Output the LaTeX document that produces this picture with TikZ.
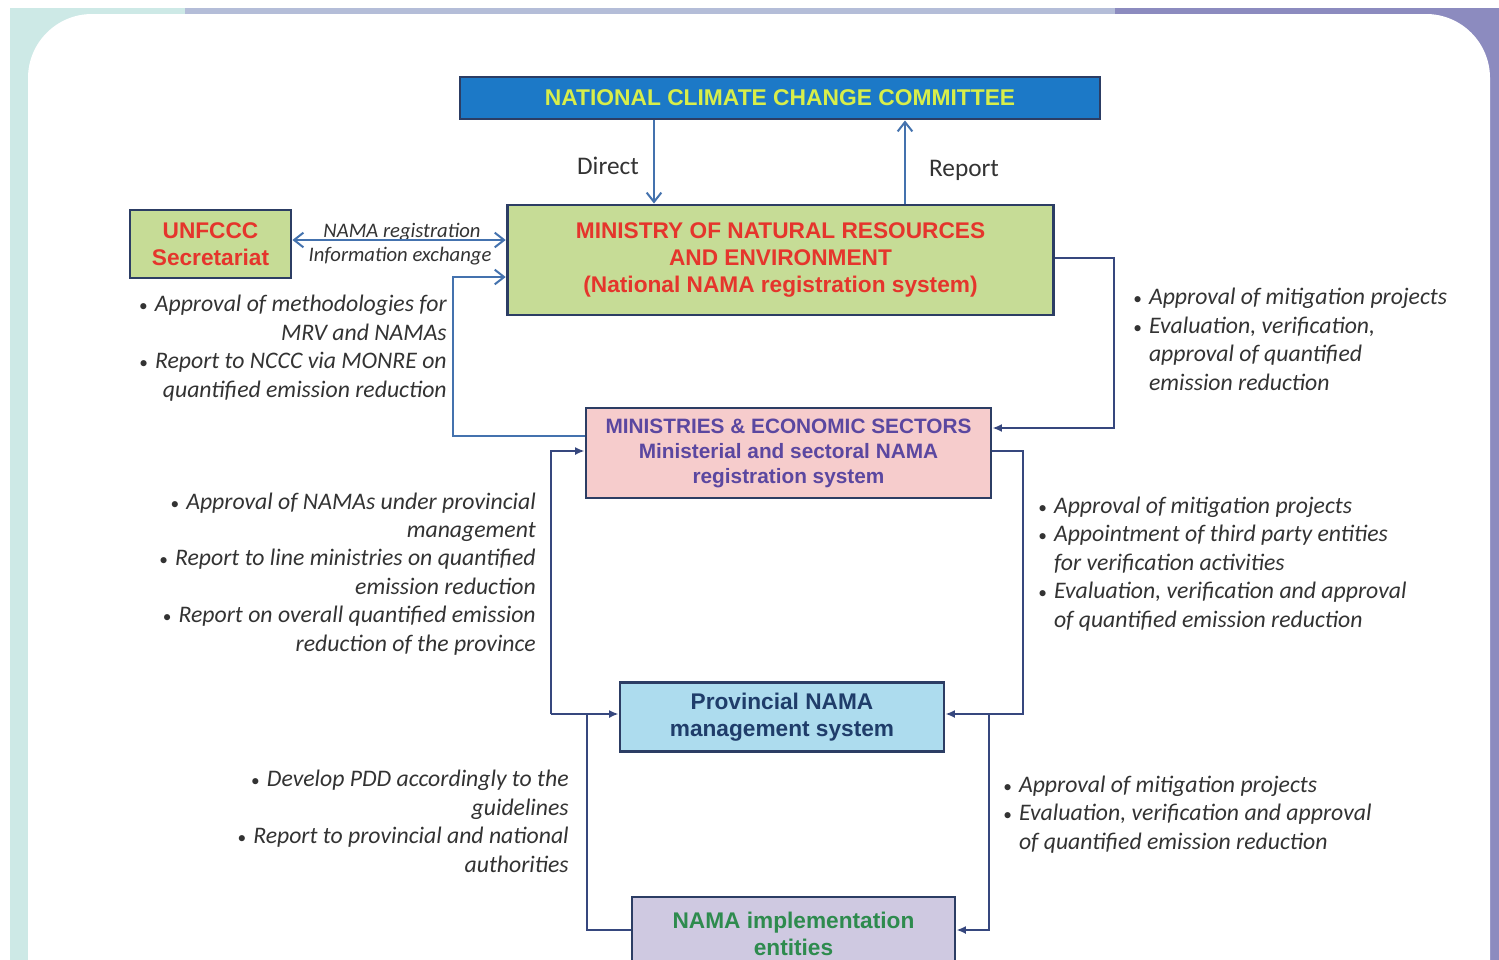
\documentclass[tikz,border=0pt]{standalone}
\usepackage{fontspec}
\setmainfont{Carlito}
\setsansfont{Liberation Sans}
\usetikzlibrary{arrows.meta,calc}
\definecolor{bgcyan}{HTML}{CDE9E6}
\definecolor{bgmid}{HTML}{B4BDD8}
\definecolor{bgpurple}{HTML}{8C8BBF}
\definecolor{ncccblue}{HTML}{1C79C7}
\definecolor{ncccyellow}{HTML}{D8EE4A}
\definecolor{boxgreen}{HTML}{C6DC96}
\definecolor{boxred}{HTML}{E5352C}
\definecolor{boxpink}{HTML}{F6CCCC}
\definecolor{minpurple}{HTML}{5B47A0}
\definecolor{provblue}{HTML}{ADDCEE}
\definecolor{provtext}{HTML}{1F3D6A}
\definecolor{namafill}{HTML}{CFC9E1}
\definecolor{namatext}{HTML}{2E8B4E}
\definecolor{border}{HTML}{2C3D64}
\definecolor{lineup}{HTML}{4472AE}
\definecolor{linelo}{HTML}{36477E}
\definecolor{note}{HTML}{333333}
\newcommand{\bul}{{\fontsize{13pt}{13pt}\selectfont\upshape\textbullet}\hspace{0.3em}}
\newcommand{\hang}{\hphantom{\bul}}
\tikzset{
  box/.style={draw=border, line width=2.2pt, inner sep=0pt, align=center,
    font=\sffamily\bfseries\fontsize{17pt}{20.25pt}\selectfont},
  note/.style={inner sep=0pt, text=note,
    font=\itshape\fontsize{17.8pt}{21.3pt}\selectfont},
  upline/.style={draw=lineup, line width=1.5pt},
  loline/.style={draw=linelo, line width=1.5pt},
  uparr/.style={upline, -{Straight Barb[length=7pt,width=11pt,line width=1.5pt]}},
  loarr/.style={loline, -{Latex[length=7pt,width=6pt]}},
}
\begin{document}
\begin{tikzpicture}[x=0.75pt,y=-0.75pt]
\useasboundingbox (0,0) rectangle (1499,960);
\clip (0,0) rectangle (1499,960);
% background frame
\fill[bgcyan] (10,8) rectangle (185,960);
\fill[bgmid] (185,8) rectangle (1115,14);
\fill[bgpurple] (1115,8) rectangle (1499,960);
\fill[white, rounded corners=48pt] (28,14) rectangle (1490,1100);

% boxes
\node[box, fill=ncccblue, text=ncccyellow, minimum width=480pt, minimum height=31.5pt,
  font=\sffamily\bfseries\fontsize{17.1pt}{19pt}\selectfont] (nccc) at (780,98)
  {NATIONAL CLIMATE CHANGE COMMITTEE};
\node[box, fill=boxgreen, text=boxred, minimum width=410pt, minimum height=82.5pt] (monre) at (780.5,260)
  {MINISTRY OF NATURAL RESOURCES\\AND ENVIRONMENT\\(National NAMA registration system)};
\node[box, fill=boxgreen, text=boxred, minimum width=120.75pt, minimum height=51pt] (unf) at (210.5,244)
  {UNFCCC\\Secretariat};
\node[box, fill=boxpink, text=minpurple, minimum width=303.75pt, minimum height=67.5pt,
  font=\sffamily\bfseries\fontsize{15.6pt}{18.75pt}\selectfont] (mins) at (788.5,453)
  {MINISTRIES \& ECONOMIC SECTORS\\Ministerial and sectoral NAMA\\registration system};
\node[box, fill=provblue, text=provtext, minimum width=243pt, minimum height=51.75pt] (prov) at (782,717)
  {Provincial NAMA\\management system};
\node[box, fill=namafill, text=namatext, minimum width=242.25pt, minimum height=55.5pt] (nama) at (793.5,934)
  {NAMA implementation\\entities};

% labels
\node[inner sep=0pt, text=note, font=\fontsize{19pt}{22pt}\selectfont, anchor=base] (ldirect) at (608,174) {Direct};
\node[inner sep=0pt, text=note, font=\fontsize{19pt}{22pt}\selectfont, anchor=base] (lreport) at (964,176) {Report};
\node[inner sep=0pt, text=note, font=\itshape\fontsize{15.5pt}{18pt}\selectfont, anchor=base] (lnreg) at (402,237) {NAMA registration};
\node[inner sep=0pt, text=note, font=\itshape\fontsize{15.5pt}{18pt}\selectfont, anchor=base] (linfo) at (400,261) {Information exchange};

% notes (base anchor = baseline of the last line)
\node[note, align=right, anchor=base east] (n1) at (447,397)
  {\bul Approval of methodologies for\\MRV and NAMAs\\\bul Report to NCCC via MONRE on\\quantified emission reduction};
\node[note, align=left, anchor=base west] (n2) at (1133,390)
  {\bul Approval of mitigation projects\\\bul Evaluation, verification,\\\hang approval of quantified\\\hang emission reduction};
\node[note, align=right, anchor=base east] (n3) at (536,651)
  {\bul Approval of NAMAs under provincial\\management\\\bul Report to line ministries on quantified\\emission reduction\\\bul Report on overall quantified emission\\reduction of the province};
\node[note, align=left, anchor=base west] (n4) at (1038,627)
  {\bul Approval of mitigation projects\\\bul Appointment of third party entities\\\hang for verification activities\\\bul Evaluation, verification and approval\\\hang of quantified emission reduction};
\node[note, align=right, anchor=base east] (n5) at (569,872)
  {\bul Develop PDD accordingly to the\\guidelines\\\bul Report to provincial and national\\authorities};
\node[note, align=left, anchor=base west] (n6) at (1003,849)
  {\bul Approval of mitigation projects\\\bul Evaluation, verification and approval\\\hang of quantified emission reduction};

% helper coordinates
\coordinate (dx) at (654,0);
\coordinate (rx) at (905,0);
\coordinate (y436) at (0,436);
\coordinate (c1) at (453,277);
\coordinate (c2) at (1114,428);
\coordinate (y451) at (0,451);
\coordinate (c3) at (1023,714);
\coordinate (c551) at (551,714);
\coordinate (c587) at (587,714);
\coordinate (c989) at (989,714);
\coordinate (y930) at (0,930);
\coordinate (y240) at (0,240);

% connectors
\draw[uparr] (nccc.south -| dx) -- (monre.north -| dx);
\draw[uparr] (monre.north -| rx) -- (nccc.south -| rx);
\draw[upline, {Straight Barb[length=7pt,width=11pt,line width=1.5pt]}-{Straight Barb[length=7pt,width=11pt,line width=1.5pt]}]
  (unf.east |- y240) -- (monre.west |- y240);
\draw[uparr] (mins.west |- y436) -| (c1) -- (monre.west |- c1);
\draw[loarr] (monre.east |- 0,258) -| (c2) -- (mins.east |- c2);
\draw[loarr] (mins.east |- y451) -| (c3) -- (prov.east |- c3);
\draw[loarr] (c551) |- (mins.west |- y451);
\draw[loarr] (c551) -- (prov.west |- c551);
\draw[loline] (nama.west |- y930) -| (c587);
\draw[loarr] (c989) |- (nama.east |- y930);
\end{tikzpicture}
\end{document}
